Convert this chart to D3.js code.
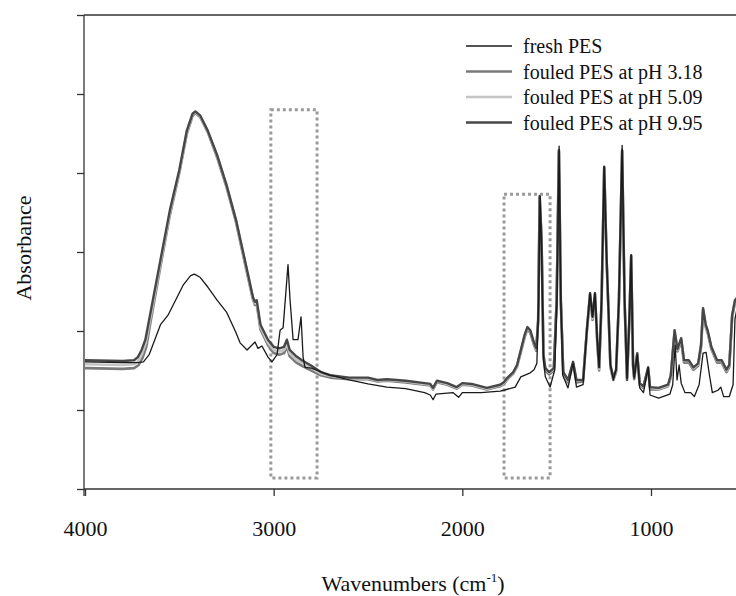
<!DOCTYPE html>
<html><head><meta charset="utf-8">
<script src="https://cdn.jsdelivr.net/npm/d3@7"></script>
<style>body{margin:0;background:#fff}svg{display:block}</style>
</head><body><svg id="chart" width="736" height="596"></svg>
<script>
// ---------- data ----------
const xTicks = [4000, 3000, 2000, 1000];
const yTicks = [0, 1, 2, 3, 4, 5, 6];
const seriesNames = ["fresh PES", "fouled PES at pH 3.18", "fouled PES at pH 5.09", "fouled PES at pH 9.95"];

// [wavenumber, absorbance (arb.)]
const freshPES = [[4000,1.61],[3800,1.60],[3720,1.60],[3690,1.61],[3660,1.70],[3630,1.89],[3600,2.08],[3560,2.20],[3520,2.39],[3480,2.58],[3440,2.70],[3420,2.72],[3390,2.68],[3350,2.56],[3300,2.39],[3250,2.24],[3200,1.98],[3178,1.85],[3141,1.76],[3099,1.86],[3083,1.78],[3062,1.81],[3030,1.67],[3009,1.61],[2982,1.70],[2966,2.01],[2950,2.04],[2924,2.84],[2913,2.39],[2897,1.89],[2871,1.89],[2855,2.18],[2844,1.67],[2834,1.54],[2800,1.53],[2700,1.44],[2600,1.38],[2500,1.33],[2400,1.29],[2300,1.27],[2200,1.22],[2170,1.19],[2155,1.13],[2140,1.20],[2050,1.22],[2020,1.16],[2000,1.22],[1900,1.22],[1800,1.24],[1780,1.25],[1720,1.29],[1690,1.42],[1640,1.47],[1620,1.51],[1605,1.59],[1595,2.39],[1588,3.70],[1580,3.03],[1570,1.63],[1560,1.42],[1535,1.29],[1510,1.51],[1498,2.39],[1487,4.34],[1478,2.39],[1468,1.44],[1440,1.28],[1413,1.59],[1395,1.29],[1360,1.32],[1340,2.01],[1323,2.48],[1310,2.18],[1297,2.48],[1285,1.89],[1275,1.54],[1262,2.39],[1248,4.08],[1235,2.90],[1215,1.57],[1200,1.38],[1185,1.51],[1170,2.39],[1153,4.35],[1140,2.39],[1127,1.38],[1115,2.14],[1105,2.96],[1095,1.57],[1089,1.40],[1073,1.70],[1060,1.28],[1040,1.22],[1015,1.54],[1005,1.19],[960,1.15],[900,1.20],[885,1.32],[872,1.82],[862,1.38],[851,1.57],[840,1.34],[820,1.22],[790,1.22],[770,1.17],[745,1.32],[724,1.72],[708,1.73],[690,1.44],[675,1.22],[645,1.25],[630,1.29],[615,1.17],[585,1.17],[565,1.32],[555,2.15],[530,2.45]];

const fouledPH318 = [[4000,1.53],[3800,1.52],[3740,1.53],[3715,1.57],[3695,1.66],[3675,1.80],[3650,2.15],[3600,2.82],[3550,3.47],[3500,4.00],[3460,4.50],[3430,4.72],[3415,4.76],[3390,4.71],[3350,4.52],[3300,4.20],[3250,3.82],[3200,3.38],[3150,2.83],[3110,2.40],[3100,2.33],[3090,2.34],[3070,2.02],[3030,1.82],[3000,1.72],[2970,1.70],[2945,1.72],[2930,1.80],[2915,1.68],[2880,1.60],[2850,1.56],[2800,1.50],[2750,1.44],[2700,1.41],[2600,1.39],[2500,1.39],[2450,1.36],[2400,1.37],[2300,1.35],[2200,1.32],[2170,1.31],[2155,1.26],[2135,1.35],[2080,1.32],[2030,1.27],[2000,1.32],[1950,1.31],[1870,1.26],[1800,1.30],[1780,1.33],[1760,1.39],[1730,1.46],[1710,1.55],[1690,1.73],[1670,1.92],[1655,2.02],[1640,1.98],[1620,1.82],[1608,1.75],[1598,2.12],[1590,3.69],[1580,3.13],[1570,1.67],[1560,1.50],[1540,1.45],[1515,1.50],[1500,2.37],[1488,4.27],[1478,2.37],[1465,1.45],[1440,1.35],[1413,1.58],[1395,1.35],[1360,1.36],[1340,1.99],[1323,2.45],[1310,2.14],[1297,2.45],[1285,1.86],[1275,1.50],[1262,2.37],[1248,4.06],[1235,2.88],[1215,1.54],[1200,1.38],[1185,1.48],[1170,2.37],[1153,4.27],[1140,2.37],[1127,1.38],[1115,2.12],[1105,2.94],[1095,1.55],[1089,1.39],[1073,1.69],[1060,1.31],[1040,1.28],[1015,1.52],[1005,1.26],[960,1.26],[910,1.30],[895,1.42],[875,1.98],[860,1.74],[840,1.88],[825,1.60],[800,1.60],[775,1.51],[750,1.56],[735,1.79],[724,2.26],[710,2.05],[700,1.98],[680,1.77],[650,1.60],[625,1.60],[600,1.48],[585,1.54],[570,2.17],[555,2.36],[530,2.43]];

const fouledPH509 = [[4000,1.58],[3800,1.57],[3740,1.58],[3718,1.62],[3698,1.71],[3678,1.85],[3650,2.21],[3600,2.86],[3550,3.50],[3500,4.02],[3460,4.52],[3430,4.74],[3415,4.77],[3390,4.72],[3350,4.53],[3300,4.22],[3250,3.84],[3200,3.40],[3150,2.85],[3110,2.42],[3100,2.35],[3090,2.37],[3070,2.05],[3030,1.85],[3000,1.76],[2970,1.74],[2945,1.76],[2930,1.84],[2915,1.72],[2880,1.64],[2850,1.60],[2800,1.53],[2750,1.46],[2700,1.43],[2600,1.40],[2500,1.40],[2450,1.37],[2400,1.38],[2300,1.36],[2200,1.33],[2170,1.32],[2155,1.27],[2135,1.36],[2080,1.33],[2030,1.28],[2000,1.33],[1950,1.32],[1870,1.27],[1800,1.31],[1780,1.34],[1760,1.40],[1730,1.47],[1710,1.56],[1690,1.75],[1670,1.94],[1655,2.04],[1640,2.00],[1620,1.84],[1608,1.77],[1598,2.13],[1590,3.70],[1580,3.14],[1570,1.69],[1560,1.52],[1540,1.47],[1515,1.52],[1500,2.38],[1488,4.28],[1478,2.38],[1465,1.47],[1440,1.37],[1413,1.60],[1395,1.37],[1360,1.38],[1340,2.00],[1323,2.47],[1310,2.16],[1297,2.47],[1285,1.88],[1275,1.52],[1262,2.38],[1248,4.07],[1235,2.89],[1215,1.56],[1200,1.40],[1185,1.50],[1170,2.38],[1153,4.28],[1140,2.38],[1127,1.40],[1115,2.13],[1105,2.95],[1095,1.56],[1089,1.41],[1073,1.71],[1060,1.33],[1040,1.29],[1015,1.53],[1005,1.28],[960,1.27],[910,1.31],[895,1.43],[875,2.00],[860,1.76],[840,1.90],[825,1.62],[800,1.62],[775,1.53],[750,1.58],[735,1.81],[724,2.28],[710,2.07],[700,2.00],[680,1.79],[650,1.62],[625,1.62],[600,1.50],[585,1.56],[570,2.19],[555,2.38],[530,2.45]];

const fouledPH995 = [[4000,1.63],[3800,1.62],[3740,1.63],[3720,1.67],[3700,1.76],[3680,1.89],[3650,2.27],[3600,2.90],[3550,3.53],[3500,4.04],[3460,4.54],[3430,4.75],[3415,4.78],[3390,4.73],[3350,4.54],[3300,4.23],[3250,3.85],[3200,3.41],[3150,2.87],[3110,2.43],[3100,2.37],[3090,2.39],[3070,2.08],[3030,1.89],[3000,1.80],[2970,1.78],[2945,1.80],[2930,1.89],[2915,1.76],[2880,1.68],[2850,1.63],[2800,1.56],[2750,1.48],[2700,1.44],[2600,1.41],[2500,1.41],[2450,1.38],[2400,1.39],[2300,1.37],[2200,1.34],[2170,1.33],[2155,1.28],[2135,1.37],[2080,1.34],[2030,1.29],[2000,1.34],[1950,1.33],[1870,1.28],[1800,1.32],[1780,1.35],[1760,1.41],[1730,1.48],[1710,1.57],[1690,1.76],[1670,1.95],[1655,2.05],[1640,2.01],[1620,1.85],[1608,1.78],[1598,2.14],[1590,3.71],[1580,3.15],[1570,1.70],[1560,1.53],[1540,1.48],[1515,1.53],[1500,2.39],[1488,4.29],[1478,2.39],[1465,1.48],[1440,1.38],[1413,1.61],[1395,1.38],[1360,1.38],[1340,2.01],[1323,2.48],[1310,2.18],[1297,2.48],[1285,1.89],[1275,1.54],[1262,2.39],[1248,4.08],[1235,2.90],[1215,1.57],[1200,1.41],[1185,1.51],[1170,2.39],[1153,4.29],[1140,2.39],[1127,1.41],[1115,2.14],[1105,2.96],[1095,1.57],[1089,1.42],[1073,1.72],[1060,1.34],[1040,1.30],[1015,1.54],[1005,1.29],[960,1.28],[910,1.32],[895,1.44],[875,2.01],[860,1.77],[840,1.91],[825,1.63],[800,1.63],[775,1.54],[750,1.59],[735,1.82],[724,2.29],[710,2.08],[700,2.01],[680,1.80],[650,1.63],[625,1.63],[600,1.51],[585,1.57],[570,2.20],[555,2.39],[530,2.46]];

// dotted highlight boxes: [wavenumber from, wavenumber to, absorbance bottom, absorbance top]
const highlightBoxes = [[3015, 2770, 0.14, 4.80], [1779, 1535, 0.14, 3.73]];

// ---------- drawing ----------
const svg = d3.select("#chart");
const x = d3.scaleLinear().domain([4000, 1000]).range([85, 651]);
const y = d3.scaleLinear().domain([0, 6]).range([489, 15]);
const serif = "'Liberation Serif', 'Times New Roman', serif";
const axisColor = "#333";

svg.append("defs").append("clipPath").attr("id", "plotClip")
  .append("rect").attr("x", 85).attr("y", 14).attr("width", 651).attr("height", 476);

const plot = svg.append("g").attr("clip-path", "url(#plotClip)");

// highlight boxes
plot.selectAll("rect.hl").data(highlightBoxes).enter().append("rect")
  .attr("class", "hl")
  .attr("x", d => x(d[0])).attr("y", d => y(d[3]))
  .attr("width", d => x(d[1]) - x(d[0])).attr("height", d => y(d[2]) - y(d[3]))
  .attr("fill", "none").attr("stroke", "#9a9a9a").attr("stroke-width", 3)
  .attr("stroke-dasharray", "3,3");

const line = d3.line().x(d => x(d[0])).y(d => y(d[1]));

const series = [
  {name: seriesNames[1], data: fouledPH318, color: "#7a7a7a", width: 2.6},
  {name: seriesNames[2], data: fouledPH509, color: "#c4c4c4", width: 2.6},
  {name: seriesNames[3], data: fouledPH995, color: "#474747", width: 2.4},
  {name: seriesNames[0], data: freshPES, color: "#1a1a1a", width: 1.3}
];
plot.selectAll("path.s").data(series).enter().append("path")
  .attr("class", "s")
  .attr("d", d => line(d.data))
  .attr("fill", "none").attr("stroke", d => d.color).attr("stroke-width", d => d.width)
  .attr("stroke-linejoin", "round");

// axes
const xAxis = d3.axisBottom(x).tickValues(xTicks).tickSize(7).tickSizeOuter(0).tickFormat(d3.format("d"));
const gx = svg.append("g").attr("transform", "translate(0,489)").call(xAxis);
gx.select(".domain").attr("d", "M84,0H736").attr("stroke", axisColor).attr("stroke-width", 1.3);
gx.selectAll(".tick line").attr("stroke", axisColor).attr("stroke-width", 1.3);
gx.selectAll(".tick text").attr("font-family", serif).attr("font-size", 22).attr("fill", "#111").attr("dy", null).attr("y", 47);

const yAxis = d3.axisLeft(y).tickValues(yTicks).tickSize(7).tickSizeOuter(0).tickFormat("");
const gy = svg.append("g").attr("transform", "translate(84,0)").call(yAxis);
gy.select(".domain").attr("d", "M0,15V496").attr("stroke", axisColor).attr("stroke-width", 1.3);
gy.selectAll(".tick line").attr("stroke", axisColor).attr("stroke-width", 1.3);

// top frame line
svg.append("line").attr("x1", 84).attr("x2", 736).attr("y1", y(6)).attr("y2", y(6))
  .attr("stroke", axisColor).attr("stroke-width", 1.3);

// axis titles
const xt = svg.append("text").attr("x", 413).attr("y", 591).attr("text-anchor", "middle")
  .attr("font-family", serif).attr("font-size", 22).attr("fill", "#111");
xt.append("tspan").text("Wavenumbers (cm");
xt.append("tspan").attr("font-size", 13).attr("dy", -9).text("-1");
xt.append("tspan").attr("dy", 9).text(")");

svg.append("text").attr("transform", "translate(31,248) rotate(-90)")
  .attr("text-anchor", "middle").attr("font-family", serif).attr("font-size", 22)
  .attr("fill", "#111").text("Absorbance");

// legend
const legendItems = [series[3], series[0], series[1], series[2]];
const lg = svg.append("g").attr("transform", "translate(466,46)");
const li = lg.selectAll("g").data(legendItems).enter().append("g")
  .attr("transform", (d, i) => `translate(0,${i * 25.5})`);
li.append("line").attr("x1", 0).attr("x2", 46).attr("y1", 0).attr("y2", 0)
  .attr("stroke", d => d.color).attr("stroke-width", d => d.width);
li.append("text").attr("x", 57).attr("y", 7).attr("font-family", serif).attr("font-size", 20)
  .attr("fill", "#111").text(d => d.name);
</script>
</body></html>
